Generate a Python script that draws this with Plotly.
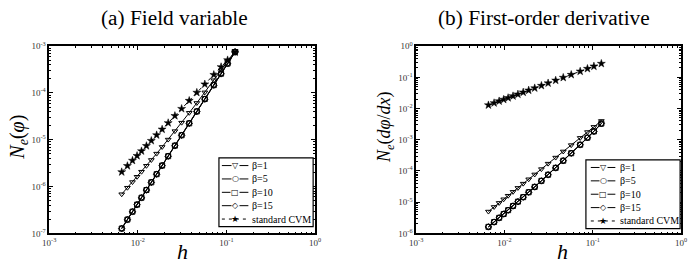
import plotly.graph_objects as go

# ---- data ----
h = [0.00658, 0.00763, 0.00870, 0.00980, 0.0110, 0.0125, 0.0142, 0.0163, 0.0188, 0.0220,
     0.0262, 0.0312, 0.0380, 0.0463, 0.0570, 0.0720, 0.0870, 0.1030, 0.1250]

# (a) field variable
a_beta1 = [6.87e-7, 9.46e-7, 1.25e-6, 1.62e-6, 2.08e-6, 2.78e-6, 3.70e-6, 5.06e-6, 7.03e-6, 1.01e-5,
           1.53e-5, 2.32e-5, 3.77e-5, 6.12e-5, 1.03e-4, 1.87e-4, 3.05e-4, 4.75e-4, 7.94e-4]
a_beta5 = [1.29e-7, 2.00e-7, 2.95e-7, 4.17e-7, 5.86e-7, 8.57e-7, 1.25e-6, 1.87e-6, 2.85e-6, 4.53e-6,
           7.59e-6, 1.27e-5, 2.28e-5, 4.09e-5, 7.54e-5, 1.50e-4, 2.63e-4, 4.32e-4, 7.64e-4]
a_beta10 = [1.27e-7, 1.97e-7, 2.91e-7, 4.11e-7, 5.78e-7, 8.45e-7, 1.23e-6, 1.84e-6, 2.81e-6, 4.46e-6,
            7.48e-6, 1.25e-5, 2.24e-5, 4.03e-5, 7.42e-5, 1.47e-4, 2.58e-4, 4.24e-4, 7.50e-4]
a_beta15 = [1.26e-7, 1.95e-7, 2.89e-7, 4.08e-7, 5.74e-7, 8.40e-7, 1.22e-6, 1.83e-6, 2.79e-6, 4.43e-6,
            7.43e-6, 1.24e-5, 2.23e-5, 4.00e-5, 7.36e-5, 1.46e-4, 2.56e-4, 4.20e-4, 7.42e-4]
a_cvm = [2.05e-6, 2.77e-6, 3.60e-6, 4.55e-6, 5.73e-6, 7.41e-6, 9.55e-6, 1.26e-5, 1.67e-5, 2.29e-5,
         3.25e-5, 4.61e-5, 6.85e-5, 1.02e-4, 1.54e-4, 2.45e-4, 3.60e-4, 5.04e-4, 7.41e-4]

# (b) first-order derivative
b_beta1 = [5.01e-6, 7.04e-6, 9.49e-6, 1.24e-5, 1.61e-5, 2.15e-5, 2.87e-5, 3.93e-5, 5.43e-5, 7.75e-5,
           1.15e-4, 1.72e-4, 2.69e-4, 4.22e-4, 6.75e-4, 1.15e-3, 1.77e-3, 2.59e-3, 4.01e-3]
b_beta5 = [1.64e-6, 2.34e-6, 3.19e-6, 4.24e-6, 5.61e-6, 7.66e-6, 1.05e-5, 1.47e-5, 2.11e-5, 3.13e-5,
           4.89e-5, 7.66e-5, 1.28e-4, 2.16e-4, 3.74e-4, 7.00e-4, 1.18e-3, 1.87e-3, 3.20e-3]
b_beta10 = [1.62e-6, 2.31e-6, 3.15e-6, 4.19e-6, 5.54e-6, 7.57e-6, 1.04e-5, 1.45e-5, 2.08e-5, 3.09e-5,
            4.83e-5, 7.57e-5, 1.26e-4, 2.13e-4, 3.70e-4, 6.92e-4, 1.17e-3, 1.85e-3, 3.30e-3]
b_beta15 = [1.61e-6, 2.30e-6, 3.13e-6, 4.17e-6, 5.51e-6, 7.53e-6, 1.03e-5, 1.44e-5, 2.07e-5, 3.07e-5,
            4.80e-5, 7.52e-5, 1.25e-4, 2.12e-4, 3.68e-4, 6.88e-4, 1.16e-3, 1.84e-3, 3.40e-3]
b_cvm = [0.0129, 0.0151, 0.0173, 0.0195, 0.0220, 0.0252, 0.0287, 0.0332, 0.0385, 0.0453,
         0.0543, 0.0652, 0.0800, 0.0984, 0.122, 0.156, 0.190, 0.226, 0.276]

names = ["β=1", "β=5", "β=10", "β=15", "standard CVM"]
symbols = ["triangle-down-open", "circle-open", "square-open", "diamond-open", "star"]
legend_glyphs = ["▽", "○", "□", "◇", "★"]
dashes = ["solid", "solid", "solid", "solid", "dash"]

x_ticks = [1e-3, 1e-2, 1e-1, 1e0]
x_tick_text = ["10<sup>-3</sup>", "10<sup>-2</sup>", "10<sup>-1</sup>", "10<sup>0</sup>"]
ya_ticks = [1e-7, 1e-6, 1e-5, 1e-4, 1e-3]
ya_tick_text = ["10<sup>-7</sup>", "10<sup>-6</sup>", "10<sup>-5</sup>", "10<sup>-4</sup>", "10<sup>-3</sup>"]
yb_ticks = [1e-6, 1e-5, 1e-4, 1e-3, 1e-2, 1e-1, 1e0]
yb_tick_text = ["10<sup>-6</sup>", "10<sup>-5</sup>", "10<sup>-4</sup>", "10<sup>-3</sup>",
                "10<sup>-2</sup>", "10<sup>-1</sup>", "10<sup>0</sup>"]

SERIF = "Liberation Serif, Times New Roman, serif"
W, H = 692, 268

fig = go.Figure()

series_a = [a_beta1, a_beta5, a_beta10, a_beta15, a_cvm]
series_b = [b_beta1, b_beta5, b_beta10, b_beta15, b_cvm]

for axes, series in ((("x", "y"), series_a), (("x2", "y2"), series_b)):
    for i, ys in enumerate(series):
        fig.add_trace(go.Scatter(
            x=h, y=ys, name=names[i], mode="lines+markers", showlegend=False,
            line=dict(color="black", width=1, dash="4px,3px" if dashes[i] == "dash" else "solid"),
            marker=dict(symbol=symbols[i], size=5 if i < 4 else 6, color="black",
                        line=dict(color="black", width=1 if i < 4 else 0.5)),
            xaxis=axes[0], yaxis=axes[1]))

tickfont = dict(family=SERIF, size=9, color="#333")

def common_axis():
    return dict(type="log", tickfont=tickfont,
                ticks="inside", ticklen=4, tickcolor="black",
                minor=dict(ticks="inside", ticklen=2, tickcolor="black", showgrid=False, dtick="D1"),
                showline=True, linecolor="black", linewidth=1.5, mirror="allticks",
                showgrid=False, zeroline=False)

def xaxis(domain, anchor):
    d = common_axis()
    d.update(range=[-3, 0], domain=domain, anchor=anchor, tickvals=x_ticks, ticktext=x_tick_text)
    return d

def yaxis(domain, anchor, rng, tv, tt):
    d = common_axis()
    d.update(range=rng, domain=domain, anchor=anchor, tickvals=tv, ticktext=tt)
    return d

ydom = [1 - 237 / H, 1 - 41 / H]

annotations = [
    dict(text="(a) Field variable", x=171 / W, y=1 - 11 / H),
    dict(text="(b) First-order derivative", x=547 / W, y=1 - 11 / H),
]
for a in annotations:
    a.update(font=dict(family=SERIF, size=21.3, color="black"))
annotations += [
    dict(text="<i>h</i>", x=179 / W, y=1 - 256 / H, font=dict(family=SERIF, size=22, color="black")),
    dict(text="<i>h</i>", x=566 / W, y=1 - 256 / H, font=dict(family=SERIF, size=22, color="black")),
    dict(text="<i>N<sub>e</sub></i>(<i>φ</i>)", x=12 / W, y=1 - 136 / H, textangle=-90,
         font=dict(family=SERIF, size=20, color="black")),
    dict(text="<i>N<sub>e</sub></i>(<i>dφ</i>/<i>dx</i>)", x=386 / W, y=1 - 126 / H, textangle=-90,
         font=dict(family=SERIF, size=18, color="black")),
]

shapes = []

def add_legend(box, line_x0, line_x1, text_x, rows):
    x0, y0, x1, y1 = box
    shapes.append(dict(type="rect", xref="paper", yref="paper",
                       x0=x0 / W, x1=x1 / W, y0=1 - y1 / H, y1=1 - y0 / H,
                       line=dict(color="black", width=1.2), fillcolor="white", layer="above"))
    for i, ry in enumerate(rows):
        shapes.append(dict(type="line", xref="paper", yref="paper",
                           x0=line_x0 / W, x1=line_x1 / W, y0=1 - ry / H, y1=1 - ry / H,
                           line=dict(color="black", width=1, dash="3px,4px" if dashes[i] == "dash" else "solid"),
                           layer="above"))
        annotations.append(dict(text=legend_glyphs[i], x=(line_x0 + line_x1) / 2 / W, y=1 - ry / H,
                                bgcolor="white" if i < 4 else None, borderpad=0,
                                font=dict(family="DejaVu Sans", size=8 if i < 4 else 9, color="black")))
        annotations.append(dict(text=names[i], x=text_x / W, y=1 - ry / H, xanchor="left",
                                font=dict(family=SERIF, size=10, color="black")))

add_legend((216, 158, 312, 230), 219, 246, 248, [166, 180, 194, 208, 222])
add_legend((590, 160, 686, 232), 595, 620, 623, [168, 182, 196, 210, 224])

for a in annotations:
    a.setdefault("xanchor", "center")
    a.setdefault("yanchor", "middle")
    a.update(xref="paper", yref="paper", showarrow=False)
    if a.get("bgcolor") is None:
        a.pop("bgcolor", None)

fig.update_layout(
    width=W, height=H, margin=dict(l=0, r=0, t=0, b=0),
    paper_bgcolor="white", plot_bgcolor="white", showlegend=False,
    xaxis=xaxis([43 / W, 314 / W], "y"),
    yaxis=yaxis(ydom, "x", [-7, -3], ya_ticks, ya_tick_text),
    xaxis2=xaxis([417 / W, 687 / W], "y2"),
    yaxis2=yaxis(ydom, "x2", [-6, 0], yb_ticks, yb_tick_text),
    annotations=annotations,
    shapes=shapes,
)

fig.write_html("out.html")
